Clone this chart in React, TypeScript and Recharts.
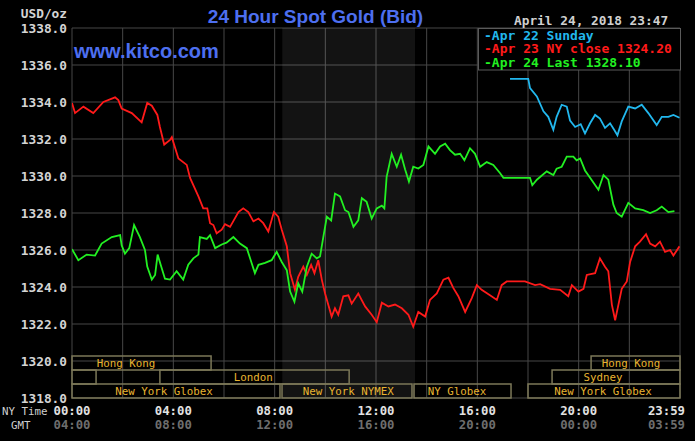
import React from "react";
import {
  LineChart,
  Line,
  XAxis,
  YAxis,
  CartesianGrid,
  ReferenceArea,
  ReferenceDot,
} from "recharts";

// ---- DATA (hours after NY midnight, USD/oz) ----
const apr22Sunday: [number, number][] = [
  [17.29, 1335.25], [18.01, 1335.25], [18.08, 1334.75], [18.35, 1334.3], [18.61, 1333.5],
  [18.8, 1333.2], [19.0, 1332.5], [19.13, 1333.2], [19.33, 1333.85], [19.53, 1333.75],
  [19.66, 1333.0], [19.86, 1332.65], [20.08, 1332.8], [20.25, 1332.3], [20.45, 1332.85],
  [20.65, 1333.3], [20.84, 1333.1], [21.04, 1332.6], [21.24, 1332.85], [21.4, 1332.5],
  [21.53, 1332.2], [21.7, 1332.95], [21.96, 1333.75], [22.23, 1333.65], [22.49, 1333.85],
  [22.75, 1333.4], [23.08, 1332.75], [23.28, 1333.2], [23.54, 1333.2], [23.74, 1333.3],
  [23.98, 1333.15],
];

const apr23NyClose: [number, number][] = [
  [0.0, 1333.95], [0.12, 1333.4], [0.45, 1333.75], [0.84, 1333.4], [1.24, 1334.0],
  [1.7, 1334.25], [1.83, 1334.1], [1.96, 1333.65], [2.36, 1333.4], [2.75, 1332.9],
  [2.97, 1333.95], [3.15, 1333.8], [3.37, 1333.3], [3.47, 1332.65], [3.64, 1331.7],
  [3.87, 1331.95], [3.94, 1332.1], [4.2, 1330.95], [4.53, 1330.6], [4.66, 1329.9],
  [4.99, 1328.9], [5.18, 1328.25], [5.34, 1328.25], [5.45, 1327.45], [5.58, 1327.35],
  [5.71, 1326.9], [5.91, 1327.1], [6.04, 1327.4], [6.24, 1327.25], [6.57, 1328.05],
  [6.76, 1328.25], [6.96, 1328.05], [7.16, 1327.55], [7.36, 1327.7], [7.55, 1327.45],
  [7.75, 1327.0], [7.97, 1328.05], [8.14, 1327.8], [8.28, 1327.1], [8.48, 1326.2],
  [8.61, 1324.75], [8.8, 1323.85], [8.93, 1324.55], [9.13, 1325.1], [9.27, 1324.65],
  [9.44, 1325.2], [9.57, 1324.75], [9.72, 1325.45], [9.86, 1324.4], [9.99, 1323.65],
  [10.25, 1322.4], [10.38, 1322.85], [10.51, 1322.5], [10.71, 1323.5], [10.91, 1323.55],
  [11.04, 1323.1], [11.3, 1323.65], [11.57, 1322.95], [11.83, 1322.5], [12.03, 1322.1],
  [12.23, 1323.15], [12.49, 1322.95], [12.75, 1323.05], [13.02, 1322.85], [13.28, 1322.5],
  [13.47, 1321.85], [13.67, 1322.65], [13.94, 1322.4], [14.13, 1323.3], [14.4, 1323.65],
  [14.66, 1324.4], [14.86, 1324.5], [15.05, 1323.95], [15.25, 1323.5], [15.52, 1322.65],
  [15.78, 1323.4], [15.98, 1324.1], [16.17, 1323.85], [16.5, 1323.55], [16.77, 1323.3],
  [16.96, 1324.1], [17.16, 1324.3], [17.88, 1324.3], [18.28, 1324.1], [18.48, 1324.15],
  [18.87, 1323.9], [19.27, 1323.85], [19.59, 1323.5], [19.73, 1324.1], [19.99, 1323.75],
  [20.19, 1323.9], [20.32, 1324.65], [20.65, 1324.75], [20.84, 1325.55], [21.04, 1325.1],
  [21.17, 1324.85], [21.31, 1323.05], [21.44, 1322.2], [21.57, 1323.05], [21.7, 1323.9],
  [21.9, 1324.3], [22.03, 1325.35], [22.23, 1326.2], [22.42, 1326.45], [22.66, 1326.85],
  [22.82, 1326.35], [23.02, 1326.2], [23.21, 1326.45], [23.41, 1325.9], [23.61, 1326.0],
  [23.74, 1325.7], [23.98, 1326.2],
];

const apr24Last: [number, number][] = [
  [0.0, 1326.05], [0.25, 1325.45], [0.58, 1325.75], [0.91, 1325.7], [1.17, 1326.35],
  [1.57, 1326.7], [1.9, 1326.8], [1.96, 1326.25], [2.09, 1325.8], [2.26, 1326.1],
  [2.45, 1327.35], [2.68, 1326.7], [2.88, 1326.0], [2.97, 1325.1], [3.15, 1324.4],
  [3.28, 1324.65], [3.38, 1325.75], [3.5, 1325.2], [3.67, 1324.45], [3.87, 1324.4],
  [4.13, 1324.85], [4.39, 1324.4], [4.59, 1325.2], [4.79, 1325.55], [4.99, 1325.75],
  [5.05, 1326.7], [5.32, 1326.6], [5.45, 1326.8], [5.65, 1326.1], [5.91, 1326.3],
  [6.1, 1326.4], [6.37, 1326.7], [6.63, 1326.35], [6.9, 1326.1], [7.09, 1325.3],
  [7.22, 1324.75], [7.36, 1325.2], [7.62, 1325.3], [7.88, 1325.45], [8.08, 1325.9],
  [8.28, 1325.35], [8.48, 1324.9], [8.61, 1323.75], [8.78, 1323.2], [8.93, 1324.2],
  [9.09, 1323.75], [9.27, 1325.1], [9.46, 1325.8], [9.66, 1325.55], [9.79, 1325.65],
  [9.92, 1326.7], [10.06, 1327.8], [10.23, 1327.6], [10.38, 1329.05], [10.58, 1328.9],
  [10.78, 1328.15], [10.91, 1328.05], [11.11, 1327.25], [11.3, 1327.6], [11.44, 1328.8],
  [11.63, 1328.6], [11.83, 1327.7], [12.03, 1328.25], [12.23, 1328.4], [12.33, 1328.25],
  [12.42, 1329.95], [12.62, 1331.2], [12.82, 1330.5], [12.99, 1331.15], [13.15, 1330.35],
  [13.3, 1329.7], [13.47, 1330.5], [13.67, 1330.4], [13.87, 1330.6], [14.07, 1331.6],
  [14.2, 1331.4], [14.33, 1331.2], [14.53, 1331.6], [14.73, 1331.75], [14.92, 1331.4],
  [15.12, 1331.15], [15.32, 1331.2], [15.49, 1330.85], [15.71, 1331.5], [15.91, 1331.2],
  [16.11, 1330.5], [16.37, 1330.75], [16.63, 1330.6], [16.9, 1330.15], [17.03, 1329.9],
  [18.08, 1329.9], [18.17, 1329.5], [18.35, 1329.8], [18.74, 1330.25], [19.0, 1330.05],
  [19.13, 1330.4], [19.33, 1330.5], [19.53, 1331.05], [19.79, 1331.05], [19.92, 1330.85],
  [20.06, 1330.95], [20.25, 1330.3], [20.45, 1329.9], [20.78, 1329.25], [20.98, 1330.05],
  [21.17, 1329.8], [21.37, 1328.45], [21.5, 1328.0], [21.7, 1327.8], [21.96, 1328.55],
  [22.23, 1328.25], [22.55, 1328.15], [22.82, 1328.0], [23.08, 1328.15], [23.28, 1328.35],
  [23.54, 1328.05], [23.78, 1328.1],
];

const yTicks = [1318, 1320, 1322, 1324, 1326, 1328, 1330, 1332, 1334, 1336, 1338];
const xGridHours = [0, 2, 4, 6, 8, 10, 12, 14, 16, 18, 20, 22, 24];
const labelHours = [0, 4, 8, 12, 16, 20, 24];
const nyTimeLabels = ["00:00", "04:00", "08:00", "12:00", "16:00", "20:00", "23:59"];
const gmtLabels = ["04:00", "08:00", "12:00", "16:00", "20:00", "00:00", "03:59"];

const nymexShade = { start: 8.3, end: 13.54 };

const sessions = [
  { name: "Hong Kong", start: 0, end: 5.49, row: 0, labelAt: 2.13 },
  { name: "Hong Kong", start: 20.49, end: 24, row: 0, labelAt: 22.07 },
  { name: "", start: 0, end: 0.95, row: 1, labelAt: 0.5 },
  { name: "London", start: 3.47, end: 10.94, row: 1, labelAt: 7.15 },
  { name: "Sydney", start: 18.95, end: 24, row: 1, labelAt: 20.96 },
  { name: "New York Globex", start: 0, end: 8.21, row: 2, labelAt: 3.63 },
  { name: "New York NYMEX", start: 8.29, end: 13.42, row: 2, labelAt: 10.9 },
  { name: "NY Globex", start: 13.5, end: 17.33, row: 2, labelAt: 15.2 },
  { name: "New York Globex", start: 18.0, end: 24, row: 2, labelAt: 20.96 },
];

const legendItems = [
  { label: "Apr 22 Sunday", key: "sun" },
  { label: "Apr 23 NY close 1324.20", key: "close" },
  { label: "Apr 24 Last 1328.10", key: "last" },
];

// ---- STYLE ----
const W = 695;
const H = 441;
const COLORS: Record<string, string> = { sun: "#22b8ee", close: "#ff1a1a", last: "#22f022" };
const MONO = "'DejaVu Sans Mono', 'Liberation Mono', monospace";
const SANS = "'Liberation Sans', Arial, sans-serif";
const BLUE = "#4d6ff0";
const GOLD = "#e8b430";
const BOX = "#7c7858";
const GRID = "#474747";
const ROW_H = 0.7567;
const rowTop = (r: number) => 1318 + (3 - r) * ROW_H;
const rowBottom = (r: number) => 1318 + (2 - r) * ROW_H;

const toPoints = (arr: [number, number][]) => arr.map(([t, v]) => ({ t, v }));

const TimeTick = (props: any) => {
  const { x, y, payload } = props;
  const i = labelHours.indexOf(payload.value);
  if (i < 0) return <g />;
  const last = payload.value === 24;
  const tx = last ? x + 5 : x;
  const anchor = last ? "end" : "middle";
  return (
    <g>
      <text x={tx} y={y + 17} textAnchor={anchor} fill="#e2e2e2"
        style={{ fontFamily: MONO, fontSize: 12.3, fontWeight: "bold" }}>
        {nyTimeLabels[i]}
      </text>
      <text x={tx} y={y + 31} textAnchor={anchor} fill="#6e6e6e"
        style={{ fontFamily: MONO, fontSize: 12.3, fontWeight: "bold" }}>
        {gmtLabels[i]}
      </text>
    </g>
  );
};

export default function App() {
  return (
    <div style={{ position: "absolute", left: 0, top: 0, width: W, height: H, background: "#000" }}>
      <LineChart width={W} height={H} margin={{ top: 28, right: 15, bottom: 0, left: 0 }}>
        <CartesianGrid stroke={GRID} strokeWidth={1} />
        <XAxis
          type="number"
          dataKey="t"
          domain={[0, 24]}
          ticks={xGridHours}
          interval={0}
          height={43}
          axisLine={false}
          tickLine={false}
          tickSize={0}
          tickMargin={0}
          tick={<TimeTick />}
          allowDataOverflow
        />
        <YAxis
          type="number"
          domain={[1318, 1338]}
          ticks={yTicks}
          interval={0}
          width={72}
          axisLine={false}
          tickLine={false}
          tickSize={0}
          tickMargin={5}
          allowDataOverflow
          tickFormatter={(v: number) => v.toFixed(1)}
          tick={{ fill: "#d4d4d4", fontFamily: MONO, fontSize: 12.8, fontWeight: "bold" }}
        />
        <ReferenceArea
          x1={nymexShade.start}
          x2={nymexShade.end}
          y1={1318}
          y2={1338}
          fill="#ffffff"
          fillOpacity={0.075}
          stroke="none"
        />
        {sessions.map((s, i) => (
          <ReferenceArea
            key={"s" + i}
            x1={s.start}
            x2={s.end}
            y1={rowBottom(s.row)}
            y2={rowTop(s.row)}
            fill="none"
            stroke={BOX}
            strokeWidth={1.5}
          />
        ))}
        {sessions
          .filter((s) => s.name)
          .map((s, i) => (
            <ReferenceDot
              key={"l" + i}
              x={s.labelAt}
              y={(rowTop(s.row) + rowBottom(s.row)) / 2}
              r={0}
              fill="none"
              stroke="none"
              label={{
                value: s.name,
                position: "center",
                fill: GOLD,
                style: { fontFamily: MONO, fontSize: 10.8 },
              }}
            />
          ))}
        <Line
          data={toPoints(apr23NyClose)}
          dataKey="v"
          type="linear"
          stroke={COLORS.close}
          strokeWidth={1.8}
          dot={false}
          isAnimationActive={false}
        />
        <Line
          data={toPoints(apr24Last)}
          dataKey="v"
          type="linear"
          stroke={COLORS.last}
          strokeWidth={1.8}
          dot={false}
          isAnimationActive={false}
        />
        <Line
          data={toPoints(apr22Sunday)}
          dataKey="v"
          type="linear"
          stroke={COLORS.sun}
          strokeWidth={1.8}
          dot={false}
          isAnimationActive={false}
        />
      </LineChart>
      <svg width={W} height={H} style={{ position: "absolute", left: 0, top: 0, pointerEvents: "none" }}>
        <text x={67} y={17.5} textAnchor="end" fill="#d4d4d4"
          style={{ fontFamily: MONO, fontSize: 12.8, fontWeight: "bold" }}>USD/oz</text>
        <text x={315.5} y={22.7} textAnchor="middle" fill={BLUE}
          style={{ fontFamily: SANS, fontSize: 19, fontWeight: "bold" }}>24 Hour Spot Gold (Bid)</text>
        <text x={74} y={58} fill={BLUE}
          style={{ fontFamily: SANS, fontSize: 20, fontWeight: "bold" }}>www.kitco.com</text>
        <text x={514} y={25} fill="#d0d0d0"
          style={{ fontFamily: MONO, fontSize: 12.8, fontWeight: "bold" }}>April 24, 2018 23:47</text>
        <rect x={478.5} y={28.5} width={202} height={41.5} fill="#000" stroke="#5a5a5a" strokeWidth={1} />
        {legendItems.map((it, i) => (
          <text key={it.key} x={484} y={39.5 + i * 13.5} fill={COLORS[it.key]}
            style={{ fontFamily: MONO, fontSize: 13, fontWeight: "bold" }}>
            {"-" + it.label}
          </text>
        ))}
        <text x={2} y={415} fill="#cfcfcf" style={{ fontFamily: MONO, fontSize: 10.8 }}>NY Time</text>
        <text x={11} y={428.5} fill="#cfcfcf" style={{ fontFamily: MONO, fontSize: 10.8 }}>GMT</text>
      </svg>
    </div>
  );
}
